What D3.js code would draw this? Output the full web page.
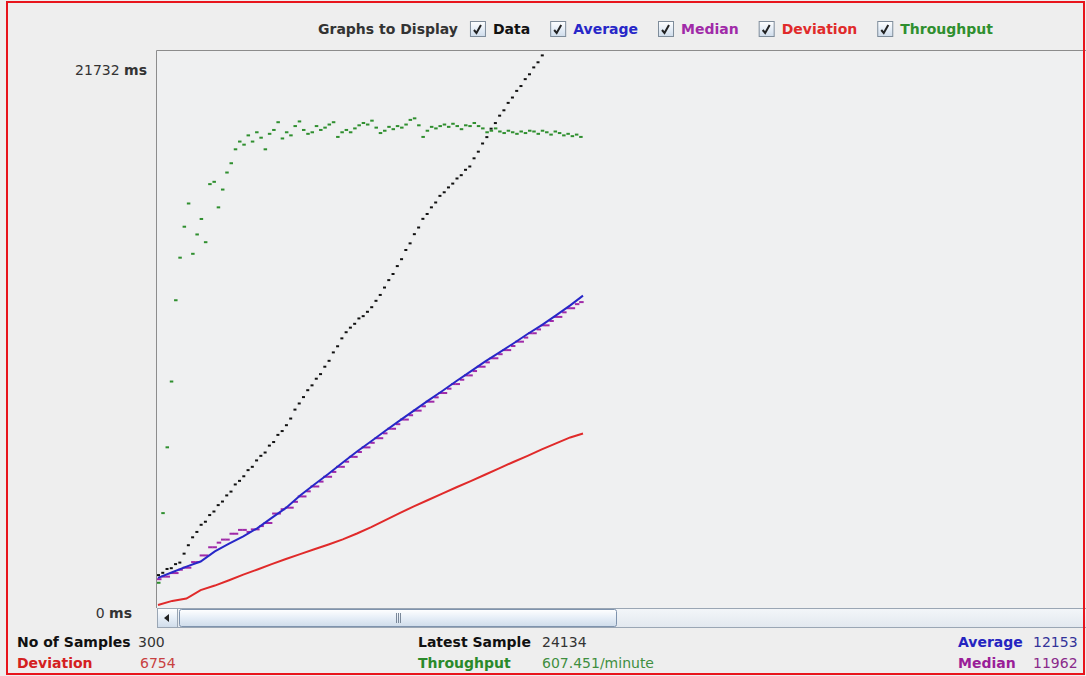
<!DOCTYPE html>
<html>
<head>
<meta charset="utf-8">
<script src="https://cdn.jsdelivr.net/npm/d3@7"></script>
<style>
  body { margin: 0; background: #eeeeee; }
  svg { display: block; font-family: "DejaVu Sans", Verdana, sans-serif; }
</style>
</head>
<body>
<div id="chart"></div>
<script>
// Graph Results (JMeter style) - response times per sample
const SAMPLE_COUNT = 300;
const GRAPH_MAX = 21732;          // ms, top of the graph
const THROUGHPUT_MAX = 717;       // per minute, top of the graph

// dot series, one value every 3 samples (1, 4, 7 ... 298)
const DOT_STEP = 3;
const dataValues = [
  1210, 1300, 1450, 1480, 1640, 1700, 2050, 2380, 2690, 2900,
  3180, 3300, 3560, 3700, 3950, 4090, 4330, 4480, 4760, 4900,
  5080, 5320, 5450, 5700, 5880, 6010, 6280, 6420, 6700, 6850,
  7080, 7340, 7690, 7930, 8180, 8450, 8640, 8900, 9080, 9370,
  9600, 9930, 10170, 10480, 10720, 10900, 11050, 11260, 11350, 11520,
  11700, 11950, 12180, 12470, 12760, 13000, 13310, 13580, 13940, 14200,
  14560, 14820, 15160, 15350, 15610, 15800, 16060, 16200, 16390, 16540,
  16740, 16870, 17080, 17210, 17530, 17790, 18110, 18360, 18690, 18910,
  19200, 19410, 19700, 19910, 20170, 20360, 20630, 20820, 21090, 21290,
  21560, 21780, 22080, 22320, 22620, 22860, 23170, 23400, 23700, 23950
];
const medianValues = [
  1050, 1150, 1150, 1290, 1290, 1420, 1500, 1500, 1720, 1720,
  1980, 1980, 2300, 2300, 2480, 2600, 2600, 2830, 2830, 2980,
  2980, 2900, 3000, 3000, 3130, 3250, 3250, 3620, 3620, 3790,
  3850, 3850, 4080, 4290, 4290, 4490, 4680, 4680, 4870, 5060,
  5060, 5250, 5450, 5450, 5650, 5840, 5840, 6030, 6210, 6210,
  6390, 6570, 6570, 6760, 6940, 6940, 7120, 7300, 7300, 7470,
  7650, 7650, 7820, 8000, 8000, 8170, 8340, 8340, 8510, 8690,
  8690, 8860, 9030, 9030, 9200, 9370, 9370, 9540, 9700, 9700,
  9860, 10020, 10020, 10180, 10350, 10350, 10510, 10680, 10680, 10830,
  10990, 10990, 11160, 11320, 11320, 11500, 11660, 11660, 11820, 11900
];
const throughputValues = [
  30, 120, 205, 290, 395, 450, 490, 520, 455, 480,
  500, 470, 545, 548, 515, 538, 560, 572, 590, 600,
  596, 608, 600, 612, 605, 590, 610, 615, 625, 604,
  612, 608, 620, 626, 615, 610, 612, 620, 615, 618,
  622, 625, 606, 612, 615, 612, 617, 621, 624, 622,
  627, 618, 611, 614, 619, 616, 620, 618, 622, 628,
  630, 621, 606, 614, 619, 617, 620, 622, 619, 623,
  620, 616, 621, 620, 624, 620, 617, 612, 614, 617,
  613, 611, 614, 612, 610, 613, 611, 614, 613, 610,
  614, 612, 609, 613, 611, 608, 610, 607, 609, 606
];

// line series, one value every 10 samples plus the last sample
const LINE_STEP = 10;
const averageValues = [
  1100, 1320, 1540, 1740, 2140, 2440, 2730, 3050, 3450, 3840,
  4330, 4760, 5180, 5620, 6050, 6450, 6860, 7260, 7650, 8040,
  8420, 8810, 9190, 9570, 9920, 10280, 10650, 11000, 11380, 11770, 12153
];
const deviationValues = [
  40, 200, 290, 620, 800, 1010, 1230, 1430, 1640, 1840,
  2030, 2220, 2410, 2610, 2840, 3090, 3360, 3640, 3900, 4150,
  4400, 4650, 4890, 5140, 5390, 5640, 5880, 6130, 6370, 6600, 6754
];

const graphNames = ["Data", "Average", "Median", "Deviation", "Throughput"];
const graphColors = ["#111111", "#2727c8", "#a02aa8", "#e02a2a", "#2f8f2f"];

const statLabels = ["No of Samples", "Deviation", "Latest Sample", "Throughput", "Average", "Median"];
const statValues = ["300", "6754", "24134", "607.451/minute", "12153", "11962"];
const statLabelColors = ["#111111", "#d42020", "#111111", "#2a8a2a", "#2424c0", "#9a1e98"];
const statValueColors = ["#333333", "#c84040", "#333333", "#3f8f3f", "#333399", "#8a2a8a"];

const width = 1086, height = 676;
const svg = d3.select("#chart").append("svg")
  .attr("width", width)
  .attr("height", height);

svg.append("rect").attr("width", width).attr("height", height).attr("fill", "#eeeeee");

// plot area
const plot = { left: 156, top: 50, right: 1086, bottom: 608 };
svg.append("rect")
  .attr("x", plot.left).attr("y", plot.top)
  .attr("width", plot.right - plot.left).attr("height", plot.bottom - plot.top)
  .attr("fill", "#eff0f1");
svg.append("path")
  .attr("d", `M${plot.left + 0.5},${plot.bottom}V${plot.top + 0.5}H${plot.right}`)
  .attr("fill", "none").attr("stroke", "#8c8c8c");

svg.append("clipPath").attr("id", "clip")
  .append("rect")
  .attr("x", plot.left + 1).attr("y", plot.top + 1)
  .attr("width", plot.right - plot.left).attr("height", plot.bottom - plot.top - 1);

const x = d3.scaleLinear().domain([1, SAMPLE_COUNT]).range([158, 583]);
const y = d3.scaleLinear().domain([0, GRAPH_MAX]).range([606, 51]);
const yThroughput = d3.scaleLinear().domain([0, THROUGHPUT_MAX]).range([606, 51]);

const dotSamples = d3.range(1, SAMPLE_COUNT, DOT_STEP);
const lineSamples = d3.range(1, SAMPLE_COUNT, LINE_STEP).concat([SAMPLE_COUNT]);

const g = svg.append("g").attr("clip-path", "url(#clip)");

// deviation line
g.append("path")
  .datum(deviationValues)
  .attr("fill", "none")
  .attr("stroke", graphColors[3])
  .attr("stroke-width", 2)
  .attr("d", d3.line().x((d, i) => x(lineSamples[i])).y(d => y(d)));

// median dashes
g.selectAll(".median")
  .data(medianValues)
  .enter().append("rect")
  .attr("class", "median")
  .attr("x", (d, i) => x(dotSamples[i]) - 1)
  .attr("y", d => y(d) - 1)
  .attr("width", 4.5)
  .attr("height", 2)
  .attr("fill", graphColors[2]);

// average line
g.append("path")
  .datum(averageValues)
  .attr("fill", "none")
  .attr("stroke", graphColors[1])
  .attr("stroke-width", 2)
  .attr("d", d3.line().x((d, i) => x(lineSamples[i])).y(d => y(d)));

// data dots
g.selectAll(".data")
  .data(dataValues)
  .enter().append("rect")
  .attr("class", "data")
  .attr("x", (d, i) => x(dotSamples[i]) - 1)
  .attr("y", d => y(d) - 1)
  .attr("width", 3)
  .attr("height", 2)
  .attr("fill", graphColors[0]);

// throughput dots
g.selectAll(".throughput")
  .data(throughputValues)
  .enter().append("rect")
  .attr("class", "throughput")
  .attr("x", (d, i) => x(dotSamples[i]) - 1)
  .attr("y", d => yThroughput(d) - 1)
  .attr("width", 3.5)
  .attr("height", 2)
  .attr("fill", graphColors[4]);

// y labels
const yLabel = (val, xRight, yPos) => {
  const t = svg.append("text")
    .attr("x", xRight).attr("y", yPos)
    .attr("text-anchor", "end")
    .style("font-size", "14px")
    .style("fill", "#333");
  t.append("tspan").text(val + " ");
  t.append("tspan").style("font-weight", "bold").text("ms");
};
yLabel(GRAPH_MAX, 147, y(GRAPH_MAX) + 24);
yLabel(0, 132, y(0) + 12);

// scrollbar
const defs = svg.append("defs");
const trackGrad = defs.append("linearGradient").attr("id", "track").attr("x2", 0).attr("y2", 1);
trackGrad.append("stop").attr("offset", 0).attr("stop-color", "#f3f6f9");
trackGrad.append("stop").attr("offset", 1).attr("stop-color", "#e2e8ef");
const thumbGrad = defs.append("linearGradient").attr("id", "thumb").attr("x2", 0).attr("y2", 1);
thumbGrad.append("stop").attr("offset", 0).attr("stop-color", "#ffffff");
thumbGrad.append("stop").attr("offset", 0.5).attr("stop-color", "#e6eef7");
thumbGrad.append("stop").attr("offset", 1).attr("stop-color", "#cfdcea");

svg.append("rect")
  .attr("x", 157.5).attr("y", 608.5).attr("width", 930).attr("height", 19)
  .attr("fill", "url(#track)").attr("stroke", "#9aa6b4");
svg.append("rect")
  .attr("x", 157.5).attr("y", 608.5).attr("width", 20).attr("height", 19)
  .attr("fill", "url(#thumb)").attr("stroke", "#9aa6b4");
svg.append("path")
  .attr("d", "M164,618 L169,614 L169,622 Z")
  .attr("fill", "#222");
svg.append("rect")
  .attr("x", 179.5).attr("y", 609.5).attr("width", 437).attr("height", 17).attr("rx", 2)
  .attr("fill", "url(#thumb)").attr("stroke", "#7f93ad");
[396, 398, 400].forEach(gx => {
  svg.append("line")
    .attr("x1", gx + 0.5).attr("x2", gx + 0.5).attr("y1", 613).attr("y2", 623)
    .attr("stroke", "#7a8899");
});

// header: graphs to display
let hx = 318;
const header = svg.append("g").style("font-size", "14px").style("font-weight", "bold");
const title = header.append("text").attr("x", hx).attr("y", 34).style("fill", "#333").text("Graphs to Display");
hx += title.node().getComputedTextLength() + 12;
graphNames.forEach((name, i) => {
  header.append("rect")
    .attr("x", hx + 0.5).attr("y", 21.5).attr("width", 15).attr("height", 15)
    .attr("fill", "url(#thumb)").attr("stroke", "#7e8c9a");
  header.append("path")
    .attr("d", `M${hx + 4},30 L${hx + 6.5},33 L${hx + 11},25`)
    .attr("fill", "none").attr("stroke", "#222").attr("stroke-width", 2);
  hx += 23;
  const t = header.append("text").attr("x", hx).attr("y", 34).style("fill", graphColors[i]).text(name);
  hx += t.node().getComputedTextLength() + 20;
});

// bottom stats
const statX = [[17, 138], [17, 140], [418, 542], [418, 542], [958, 1033], [958, 1033]];
const statY = [647, 668, 647, 668, 647, 668];
statLabels.forEach((label, i) => {
  svg.append("text")
    .attr("x", statX[i][0]).attr("y", statY[i])
    .style("font-size", "14px").style("font-weight", "bold")
    .style("fill", statLabelColors[i])
    .text(label);
  svg.append("text")
    .attr("x", statX[i][1]).attr("y", statY[i])
    .style("font-size", "14px")
    .style("fill", statValueColors[i])
    .text(statValues[i]);
});

// red frame
svg.append("rect")
  .attr("x", 7).attr("y", 2).attr("width", 1077).attr("height", 672)
  .attr("fill", "none").attr("stroke", "#e8141c").attr("stroke-width", 2);
</script>
</body>
</html>
